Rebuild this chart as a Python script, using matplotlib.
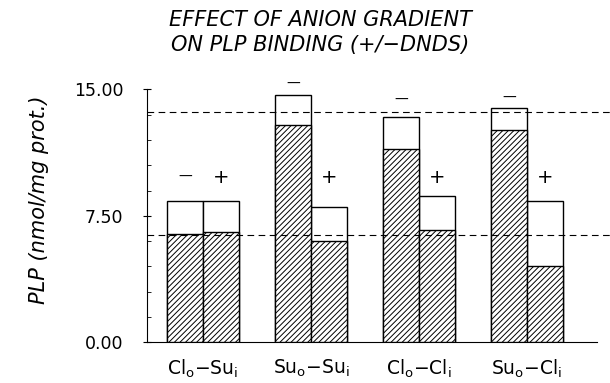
import matplotlib
matplotlib.use("Agg")
import matplotlib.pyplot as plt
import numpy as np

plt.rcParams['font.family'] = ['DejaVu Sans']
plt.rcParams['hatch.linewidth'] = 0.7

categories = [r"Cl$_\mathregular{o}$$-$Su$_\mathregular{i}$",
              r"Su$_\mathregular{o}$$-$Su$_\mathregular{i}$",
              r"Cl$_\mathregular{o}$$-$Cl$_\mathregular{i}$",
              r"Su$_\mathregular{o}$$-$Cl$_\mathregular{i}$"]
# "-" DNDS (left bar) and "+" DNDS (right bar)
total_minus = [8.39, 14.66, 13.34, 13.87]
specific_minus = [6.40, 12.88, 11.44, 12.57]
total_plus = [8.39, 8.04, 8.67, 8.39]
specific_plus = [6.56, 6.02, 6.66, 4.52]
ref_lines = [13.63, 6.36]
yticks = [0.0, 7.5, 15.0]
minus_label_y = [9.8, 15.3, 14.4, 14.5]
plus_label_y = [9.8, 9.8, 9.8, 9.8]

fig = plt.figure(figsize=(6.10, 3.83), dpi=100)
ax = fig.add_axes([147/610, 1-342.3/383, 1-147/610, (342.3-89.3)/383])

x = np.arange(len(categories))
w = 0.336
for xs, tot, spec in [(x - w/2, total_minus, specific_minus), (x + w/2, total_plus, specific_plus)]:
    ax.bar(xs, tot, width=w, facecolor='white', edgecolor='black', linewidth=1.0, zorder=2)
    ax.bar(xs, spec, width=w, facecolor='white', edgecolor='black', linewidth=1.0,
           hatch='//////', zorder=3)

for v in ref_lines:
    ax.axhline(v, color='black', linestyle=(0, (6, 4)), linewidth=0.8, zorder=4, clip_on=False)

for i in range(len(categories)):
    ax.text(x[i] - w/2, minus_label_y[i], '\u2014', ha='center', va='center', fontsize=10)
    ax.text(x[i] + w/2, plus_label_y[i], '+', ha='center', va='center', fontsize=14)

ax.set_xlim((147-203)/108, (610-203)/108)
ax.set_ylim(0, 15)
for s in ['top', 'right']:
    ax.spines[s].set_visible(False)
ax.spines['bottom'].set_bounds((147-203)/108, (597-203)/108)
ax.set_xticks(x)
ax.set_xticklabels(categories, fontsize=13.5)
ax.tick_params(axis='x', length=0, pad=11)
ax.set_yticks(yticks)
ax.set_yticklabels(['%.2f' % t for t in yticks], fontsize=12.5)
ax.set_yticks(np.arange(0, 15.01, 1.5), minor=True)
ax.tick_params(axis='y', which='major', direction='inout', length=6, pad=14)
ax.tick_params(axis='y', which='minor', direction='in', length=3)

ax.set_ylabel('PLP (nmol/mg prot.)', fontsize=15, style='italic')
ax.yaxis.set_label_coords(-0.212, 0.5625)

fig.text(320/610, 1-19.5/383, 'EFFECT OF ANION GRADIENT', ha='center', va='center',
         fontsize=15, style='italic')
fig.text(320/610, 1-45/383, 'ON PLP BINDING (+/\u2212DNDS)', ha='center', va='center',
         fontsize=15, style='italic')

fig.savefig('out.png', dpi=100)
